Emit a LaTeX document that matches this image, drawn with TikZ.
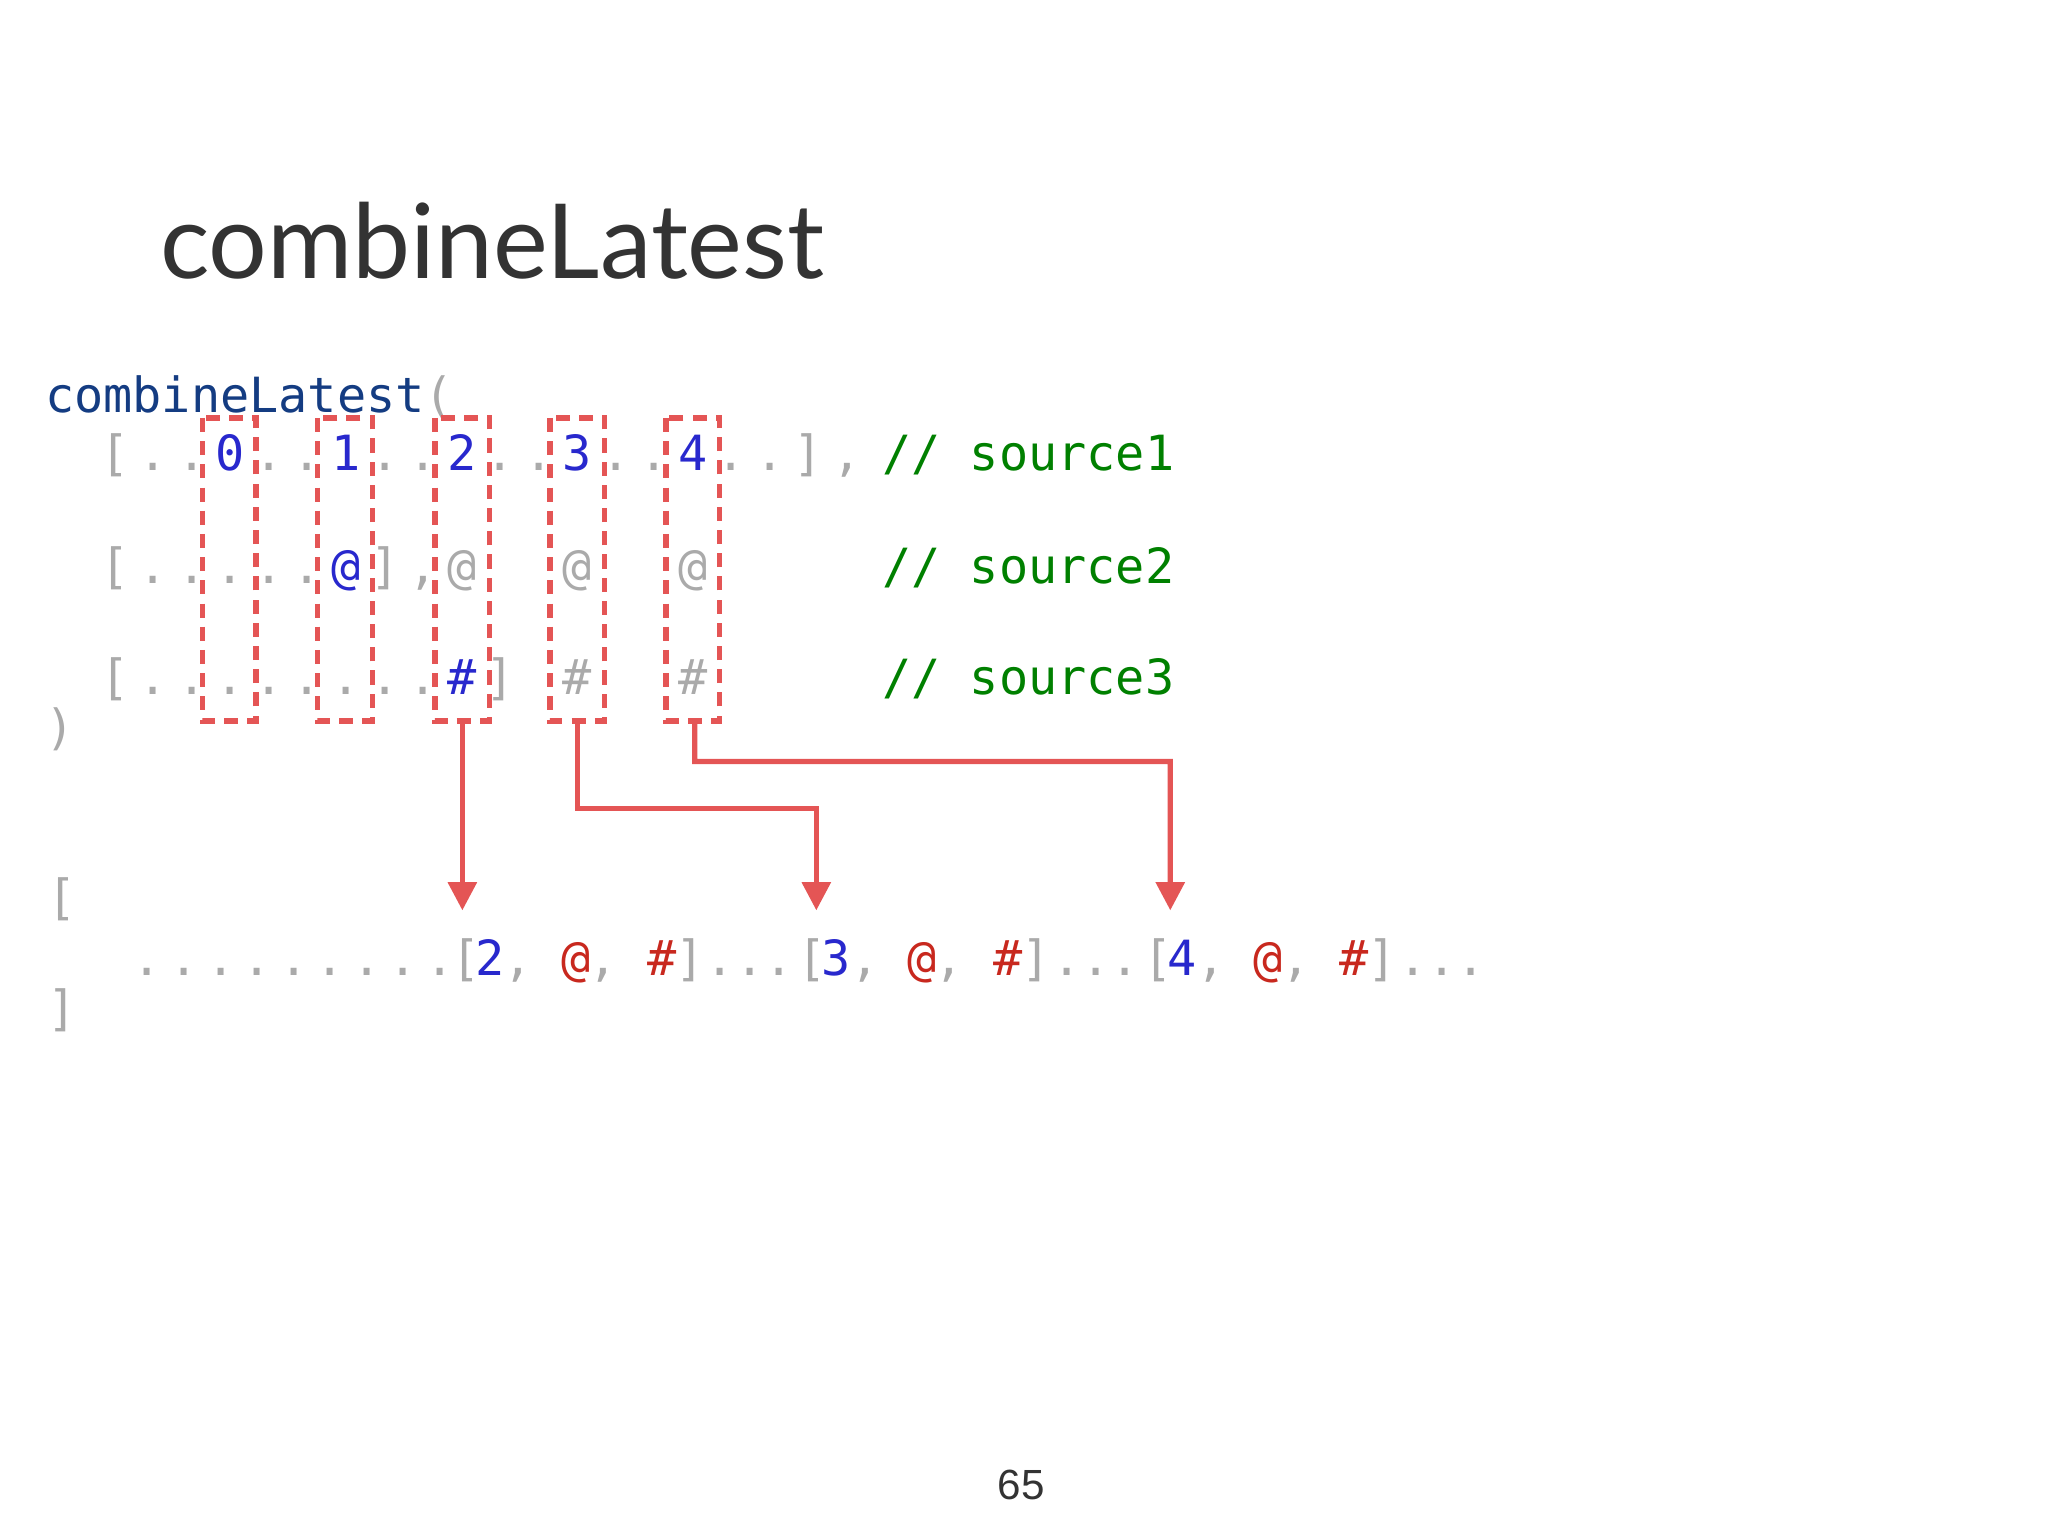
\documentclass[tikz,border=0pt]{standalone}
\usepackage{fontspec}
\setmainfont{Lato}
\setmonofont{DejaVu Sans Mono}
\setsansfont{Liberation Sans}
\usetikzlibrary{arrows.meta}
\definecolor{cg}{RGB}{170,170,170}
\definecolor{cbl}{RGB}{40,40,205}
\definecolor{cgn}{RGB}{0,128,0}
\definecolor{crd}{RGB}{200,40,30}
\definecolor{cdb}{RGB}{20,60,130}
\definecolor{boxred}{RGB}{228,85,85}
\begin{document}
\begin{tikzpicture}[x=0.013061cm,y=-0.013061cm,
  code/.style={inner sep=0,anchor=base west,font=\ttfamily\fontsize{13.8}{16}\selectfont},
  tok/.style={inner sep=0,anchor=base,font=\ttfamily\fontsize{13.8}{16}\selectfont},
  dbox/.style={draw=boxred,line width=1.5pt,dash pattern=on 4pt off 2.6pt},
  conn/.style={draw=boxred,line width=1.5pt,-{Triangle[length=8pt,width=8pt]}}]
\useasboundingbox (0,0) rectangle (1568,1176);
\node[inner sep=0,anchor=base west,text=black!80,font=\fontsize{29.5}{32}\selectfont] (title) at (122,213) {combineLatest};
\node[code] (call) at (34,316) {{\color{cdb}combineLatest}{\color{cg}(}};
% rows 1-3, letter-spaced
\foreach \k/\c [count=\i from 0] in {cg/[,cg/.,cg/.,cbl/0,cg/.,cg/.,cbl/1,cg/.,cg/.,cbl/2,cg/.,cg/.,cbl/3,cg/.,cg/.,cbl/4,cg/.,cg/.,cg/],cg/{,}}
  {\node[tok,text=\k] (ra\i) at (88+\i*29.5,360) {\c};}
\foreach \k/\c [count=\i from 0] in {cg/[,cg/.,cg/.,cg/.,cg/.,cg/.,cbl/@,cg/],cg/{,},cg/@,cg/{},cg/{},cg/@,cg/{},cg/{},cg/@}
  {\node[tok,text=\k] (rb\i) at (88+\i*29.5,447) {\c};}
\foreach \k/\c [count=\i from 0] in {cg/[,cg/.,cg/.,cg/.,cg/.,cg/.,cg/.,cg/.,cg/.,cbl/\#,cg/],cg/{},cg/\#,cg/{},cg/{},cg/\#}
  {\node[tok,text=\k] (rc\i) at (88+\i*29.5,532) {\c};}
\node[code,text=cgn] (c1) at (675,360) {// source1};
\node[code,text=cgn] (c2) at (675,447) {// source2};
\node[code,text=cgn] (c3) at (675,532) {// source3};
\node[code,text=cg] (close) at (34,570) {)};
\node[code,text=cg] (ob) at (36,700) {[};
\node[code,text=cg] (cb) at (36,785) {]};
% output row
\foreach \i in {0,...,8}{\node[tok,text=cg] (d\i) at (113+\i*28,747) {.};}
\foreach \g/\n in {0/2,1/3,2/4}{
  \begin{scope}[xshift=\g*265*0.013061cm]
  \node[tok,text=cg] (lb\g) at (357,747) {[};
  \node[tok,text=cbl] (n\g) at (375,747) {\n};
  \node[tok,text=cg] (ca\g) at (397,747) {,};
  \node[tok,text=crd] (at\g) at (441,747) {@};
  \node[tok,text=cg] (cc\g) at (462,747) {,};
  \node[tok,text=crd] (h\g) at (507,747) {\#};
  \node[tok,text=cg] (rb\g) at (528,747) {]};
  \node[tok,text=cg] (e\g) at (574,747) {...};
  \end{scope}}
% boxes
\foreach \a/\b [count=\k] in {155/196,243/285,333/375,421/463,510/551}{
  \draw[dbox] (\a,320) rectangle (\b,552);
  \coordinate (bt\k) at ({(\a+\b)/2},552);}
\coordinate (t1) at (354,697);
\coordinate (t2) at (625,697);
\coordinate (t3) at (896,697);
\draw[conn] (bt3) -- (t1);
\draw[conn] (bt4) -- (442,619) -- (625,619) -- (t2);
\draw[conn] ([xshift=1.5*0.013061cm]bt5) -- (532,583) -- (896,583) -- (t3);
\node[inner sep=0,anchor=base,font=\sffamily\fontsize{12}{14}\selectfont,text=black!80] (pg) at (782,1148) {65};
\end{tikzpicture}
\end{document}
